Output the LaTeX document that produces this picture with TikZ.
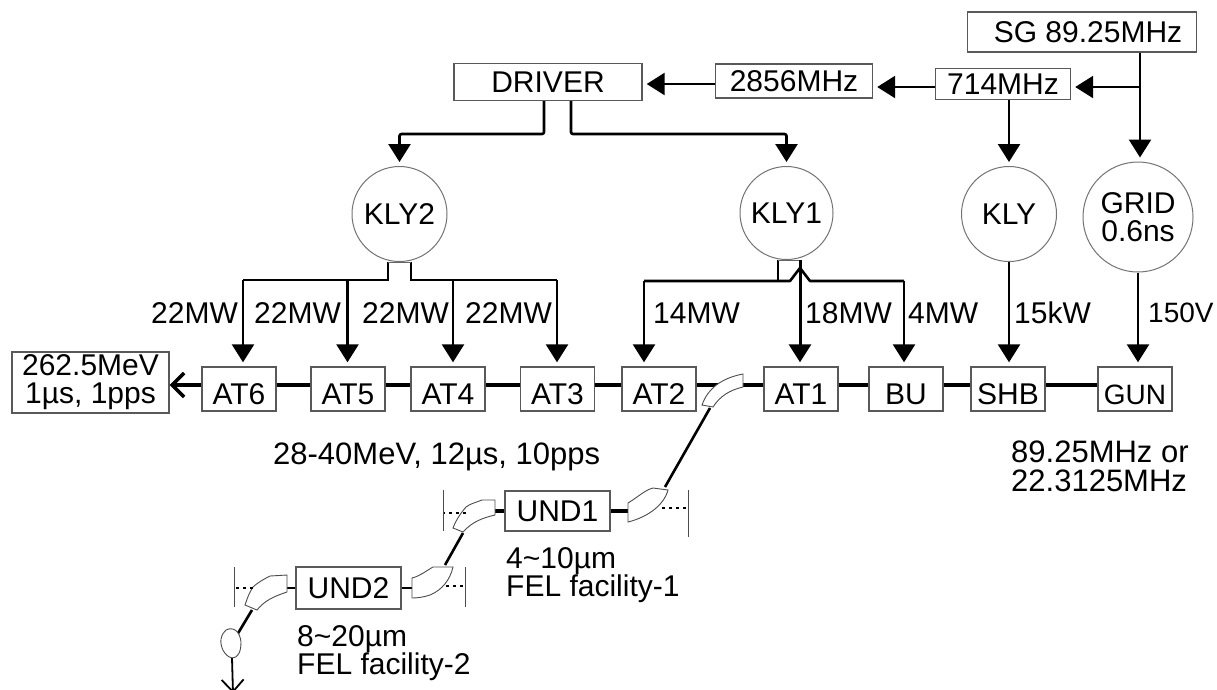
\documentclass[tikz,border=0pt]{standalone}
\usepackage{fontspec}
\setmainfont{Liberation Sans}
\usetikzlibrary{arrows.meta,calc}

\begin{document}
\begin{tikzpicture}[
  x=1pt,y=-1pt,
  box/.style={rectangle,draw=black!65,line width=1.4pt,fill=white,inner sep=0pt,align=center,
    minimum width=#1,font=\fontsize{30}{28}\selectfont},
  rowbox/.style={box=74pt,minimum height=44pt,text height=31pt,text depth=0pt},
  klys/.style={circle,draw=black!55,line width=1pt,fill=white,inner sep=0pt,align=center,
    minimum size=#1,font=\fontsize{30}{28}\selectfont},
  txt/.style={inner sep=0pt,align=left,font=\fontsize{30}{28}\selectfont},
  feed/.style={-{Triangle[length=18pt,width=22pt]},line width=2.6pt,shorten >=4pt},
  wire/.style={line width=2.6pt},
  beam/.style={line width=3.4pt},
  bendmag/.style={draw=black!70,line width=.9pt,fill=white},
  slit/.style={line width=1pt,black!70},
  dots/.style={line width=1.6pt,dash pattern=on 3pt off 4pt}
]
\useasboundingbox (0,0) rectangle (1217,689);

% signal sources
\node[box=229pt,minimum height=40pt] (SG) at (1082,32) {\hspace*{12pt}SG 89.25MHz};
\node[box=135pt,minimum height=31pt] (f714) at (1003,84) {714MHz};
\node[box=157pt,minimum height=34pt] (f2856) at (794,81) {2856MHz};
\node[box=188pt,minimum height=37pt] (DRIVER) at (548,82) {DRIVER};

\node[klys=95pt] (KLY2) at (399.5,214) {KLY2};
\node[klys=93pt] (KLY1) at (786.5,213) {KLY1};
\node[klys=95pt] (KLY) at (1009,214) {KLY};
\node[klys=110pt] (GRID) at (1138,217) {GRID\\0.6ns};

% accelerator row
\node[box=157pt,minimum height=61pt] (OUT) at (90.5,382.5) {262.5MeV\\1µs, 1pps};
\node[rowbox] (AT6) at (239,389) {AT6};
\node[rowbox] (AT5) at (348,389) {AT5};
\node[rowbox] (AT4) at (448,389) {AT4};
\node[rowbox] (AT3) at (557.5,389) {AT3};
\node[rowbox] (AT2) at (659,389) {AT2};
\node[rowbox] (AT1) at (801,389) {AT1};
\node[rowbox] (BU) at (906,389) {BU};
\node[rowbox] (SHB) at (1008,389) {SHB};
\node[rowbox,font=\fontsize{28}{28}\selectfont] (GUN) at (1135,389) {GUN};

\node[box=105pt,minimum height=40pt] (UND1) at (557.5,511) {UND1};
\node[box=105pt,minimum height=42pt] (UND2) at (348.5,588) {UND2};

% beam line
\coordinate (bl) at (0,385);
\foreach \a/\b in {AT6/AT5,AT5/AT4,AT4/AT3,AT3/AT2,AT2/AT1,AT1/BU,BU/SHB,SHB/GUN}
  \draw[beam] (\a.east|-bl) -- (\b.west|-bl);
\draw[-{Straight Barb[length=12pt,width=24pt]},beam] (AT6.west|-bl) -- (OUT.east|-bl);

% low level drive
\coordinate (sgdn) at (1140,87);
\draw[feed] (SG.south-|sgdn) -- (sgdn|-GRID.north);
\draw[feed] (sgdn) -- (f714.east|-sgdn);
\draw[feed] (f714.south-|KLY) -- (KLY.north);
\draw[feed] (f714.west|-sgdn) -- (f2856.east|-sgdn);
\coordinate (drv) at (0,84);
\draw[feed] (f2856.west|-drv) -- (DRIVER.east|-drv);

\coordinate (dl) at (544,134);
\coordinate (dr) at (571,134);
\draw[feed,rounded corners=2pt] (DRIVER.south-|dl) -- (dl) -| (KLY2.north);
\draw[feed,rounded corners=2pt] (DRIVER.south-|dr) -- (dr) -| (KLY1.north);

% KLY2 outputs
\coordinate (k2l) at (388,280);
\coordinate (k2r) at (411,280);
\coordinate (k2a) at (243,280);
\coordinate (k2b) at (347.5,280);
\coordinate (k2c) at (453,280);
\coordinate (k2d) at (557,280);
\draw[wire] (k2l|-KLY2.south) -- (k2l) -- (k2a);
\draw[wire] (k2r|-KLY2.south) -- (k2r) -- (k2d);
\draw[thin,black!60] (k2l|-KLY2.south) -- (k2r|-KLY2.south);
\draw[feed] (k2a) -- (k2a|-AT6.north);
\draw[feed] (k2b) -- (k2b|-AT5.north);
\draw[feed] (k2c) -- (k2c|-AT4.north);
\draw[feed] (k2d) -- (k2d|-AT3.north);

% KLY1 outputs
\coordinate (k1l) at (778,281);
\coordinate (k1m) at (800,281);
\coordinate (k1a) at (644,281);
\coordinate (k1c) at (904,281);
\draw[wire] (k1l|-KLY1.south) -- (k1l);
\draw[thin,black!60] (k1l|-KLY1.south) -- (k1m|-KLY1.south);
\draw[feed,line width=3pt] (k1m|-KLY1.south) -- (k1m|-AT1.north);
\draw[wire,line join=round] (k1c) -- (810,281) -- (800,268) -- (790,281) -- (k1a);
\draw[feed] (k1a) -- (k1a|-AT2.north);
\draw[feed] (k1c) -- (k1c|-BU.north);
\draw[feed] (KLY.south) -- (KLY.south|-SHB.north);
\draw[feed] (GRID.south) -- (GRID.south|-GUN.north);

% undulator lines
\coordinate (ba) at (710,408);
\coordinate (bb) at (665,487);
\coordinate (bc) at (463,533);
\coordinate (bd) at (445,565);
\coordinate (be) at (252,610);
\coordinate (bf) at (237,635);
\draw[wire] (ba) -- (bb);
\draw[beam] (UND1.east) -- (630,511);
\draw[beam] (UND1.west) -- (493,511);
\draw[wire] (bc) -- (bd);
\draw[wire] (UND2.east) -- (414,588);
\draw[wire] (UND2.west) -- (285,588);
\draw[wire] (be) -- (bf);

% bends
\draw[bendmag] (702,405) .. controls (708,388) and (722,378) .. (743,374)
  -- (743,387) .. controls (730,390) and (720,396) .. (713,407) -- cycle;
\draw[bendmag] (628,503) .. controls (638,497) and (645,490) .. (653,488) -- (668,490)
  .. controls (664,505) and (648,517) .. (628,522) -- cycle;
\draw[bendmag] (495,500) -- (482,500) .. controls (474,503) and (470,504) .. (466,507)
  .. controls (460,514) and (456,520) .. (453,528) -- (463,532)
  .. controls (472,522) and (482,518) .. (495,515) -- cycle;
\draw[bendmag] (412,578) .. controls (420,576) and (426,571) .. (433,567) -- (453,567)
  .. controls (450,580) and (442,590) .. (430,595) .. controls (424,597) and (418,598) .. (412,598) -- cycle;
\draw[bendmag] (287,575) -- (270,576) .. controls (262,580) and (256,584) .. (253,587)
  .. controls (249,593) and (247,599) .. (245,605) -- (257,610)
  .. controls (265,600) and (275,596) .. (287,592) -- cycle;
\coordinate (ring) at (232,643);
\draw[bendmag] (226,630) .. controls (234,626) and (240,632) .. (241,642)
  .. controls (241,652) and (238,658) .. (232,658) .. controls (224,656) and (220,646) .. (221,639)
  .. controls (222,634) and (224,632) .. (226,630) -- cycle;

% dump lines and slits
\coordinate (sa) at (688,508);
\coordinate (sb) at (443,513);
\coordinate (sc) at (465,586);
\coordinate (sd) at (234,588);
\draw[dots] (662,508) -- (sa);
\draw[dots] (466,513) -- (sb);
\draw[dots] (446,586) -- (sc);
\draw[dots] (253,588) -- (sd);
\draw[slit] ($(sa)+(0,-18)$) -- ($(sa)+(0,29)$);
\draw[slit] ($(sb)+(0,-23)$) -- ($(sb)+(0,18)$);
\draw[slit] ($(sc)+(0,-19)$) -- ($(sc)+(0,21)$);
\draw[slit] ($(sd)+(0,-21)$) -- ($(sd)+(0,19)$);

\coordinate (endpt) at (233,693);
\draw[-{Straight Barb[length=12pt,width=22pt]},line width=1.8pt] (ring|-0,658) -- (endpt);

% labels
\node[txt,anchor=west] (p1) at (151,313) {22MW};
\node[txt,anchor=west] (p2) at (254,313) {22MW};
\node[txt,anchor=west] (p3) at (362,313) {22MW};
\node[txt,anchor=west] (p4) at (465,313) {22MW};
\node[txt,anchor=west] (p5) at (653,313) {14MW};
\node[txt,anchor=west] (p6) at (805,313) {18MW};
\node[txt,anchor=west] (p7) at (908,313) {4MW};
\node[txt,anchor=west] (p8) at (1014,313) {15kW};
\node[txt,anchor=west,font=\fontsize{28}{28}\selectfont] (p9) at (1148,313) {150V};

\node[txt,anchor=west,font=\fontsize{31}{28}\selectfont] (tbeam) at (273,457) {28-40MeV, 12µs, 10pps};
\node[txt,anchor=west,font=\fontsize{31}{29}\selectfont] (tfreq) at (1011,466) {89.25MHz or\\22.3125MHz};
\node[txt,anchor=west] (tfel1) at (506,575) {4\textasciitilde10µm\\FEL facility-1};
\node[txt,anchor=west] (tfel2) at (297,653) {8\textasciitilde20µm\\FEL facility-2};
\end{tikzpicture}
\end{document}
